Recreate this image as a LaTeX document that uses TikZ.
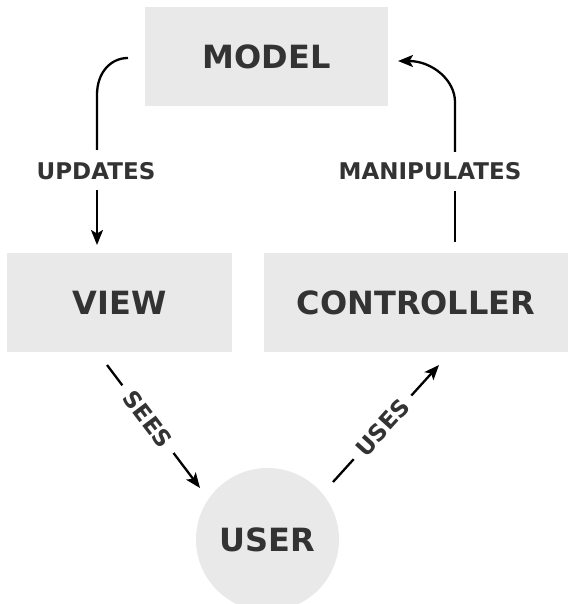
\documentclass[tikz,border=0pt]{standalone}
\usepackage{fontspec}
\setmainfont{DejaVu Sans}
\usetikzlibrary{arrows.meta}
\definecolor{boxgray}{HTML}{E9E9E9}
\definecolor{txt}{HTML}{333333}
\begin{document}
\begin{tikzpicture}[x=1pt,y=-1pt,
  box/.style={fill=boxgray, draw=none, inner sep=0pt, text=txt,
    font=\fontsize{32}{36}\selectfont\bfseries},
  lab/.style={text=txt, font=\fontsize{23}{26}\selectfont\bfseries, inner sep=0pt},
  conn/.style={line width=2.3pt, black},
  arr/.style={conn, -{Stealth[length=15pt,width=12pt,inset=3.5pt]}}]
\useasboundingbox (0,0) rectangle (574,604);
\clip (0,0) rectangle (574,604);
\fill[white] (0,0) rectangle (574,604);
% nodes
\node[box, minimum width=243pt, minimum height=99pt] (model) at (266.5,56.5) {MODEL};
\node[box, minimum width=225pt, minimum height=99pt] (view) at (119.5,302.5) {VIEW};
\node[box, minimum width=304pt, minimum height=99pt] (ctrl) at (416,302.5) {CONTROLLER};
\node[box, circle, minimum size=143pt] (user) at (267.5,539.5) {USER};
% labels
\node[lab] (lupd) at (96,171) {UPDATES};
\node[lab] (lman) at (430,171) {MANIPULATES};
% UPDATES connector
\coordinate (u0) at (128,58);
\coordinate (u1) at (97,150);
\coordinate (u2) at (97,190);
\coordinate (u3) at (97,245);
\draw[conn] (u0) .. controls (111,58) and (97,72) .. (97,95) -- (u1);
\draw[arr] (u2) -- (u3);
% MANIPULATES connector
\coordinate (m0) at (455,242);
\coordinate (m1) at (455,191);
\coordinate (m2) at (455,152);
\coordinate (m3) at (398,61);
\draw[conn] (m0) -- (m1);
\draw[arr] (m2) -- (455,102) .. controls (455,80) and (432,61) .. (m3);
% SEES connector
\coordinate (s0) at (107,365);
\coordinate (s1) at (200,488);
\draw[arr] (s0) -- node[lab, sloped, pos=0.44, fill=white, inner xsep=10pt, inner ysep=4pt] (lsees) {SEES} (s1);
% USES connector
\coordinate (w0) at (333,482);
\coordinate (w1) at (439,365);
\draw[arr] (w0) -- node[lab, sloped, pos=0.467, fill=white, inner xsep=9pt, inner ysep=4pt] (luses) {USES} (w1);
\end{tikzpicture}
\end{document}
